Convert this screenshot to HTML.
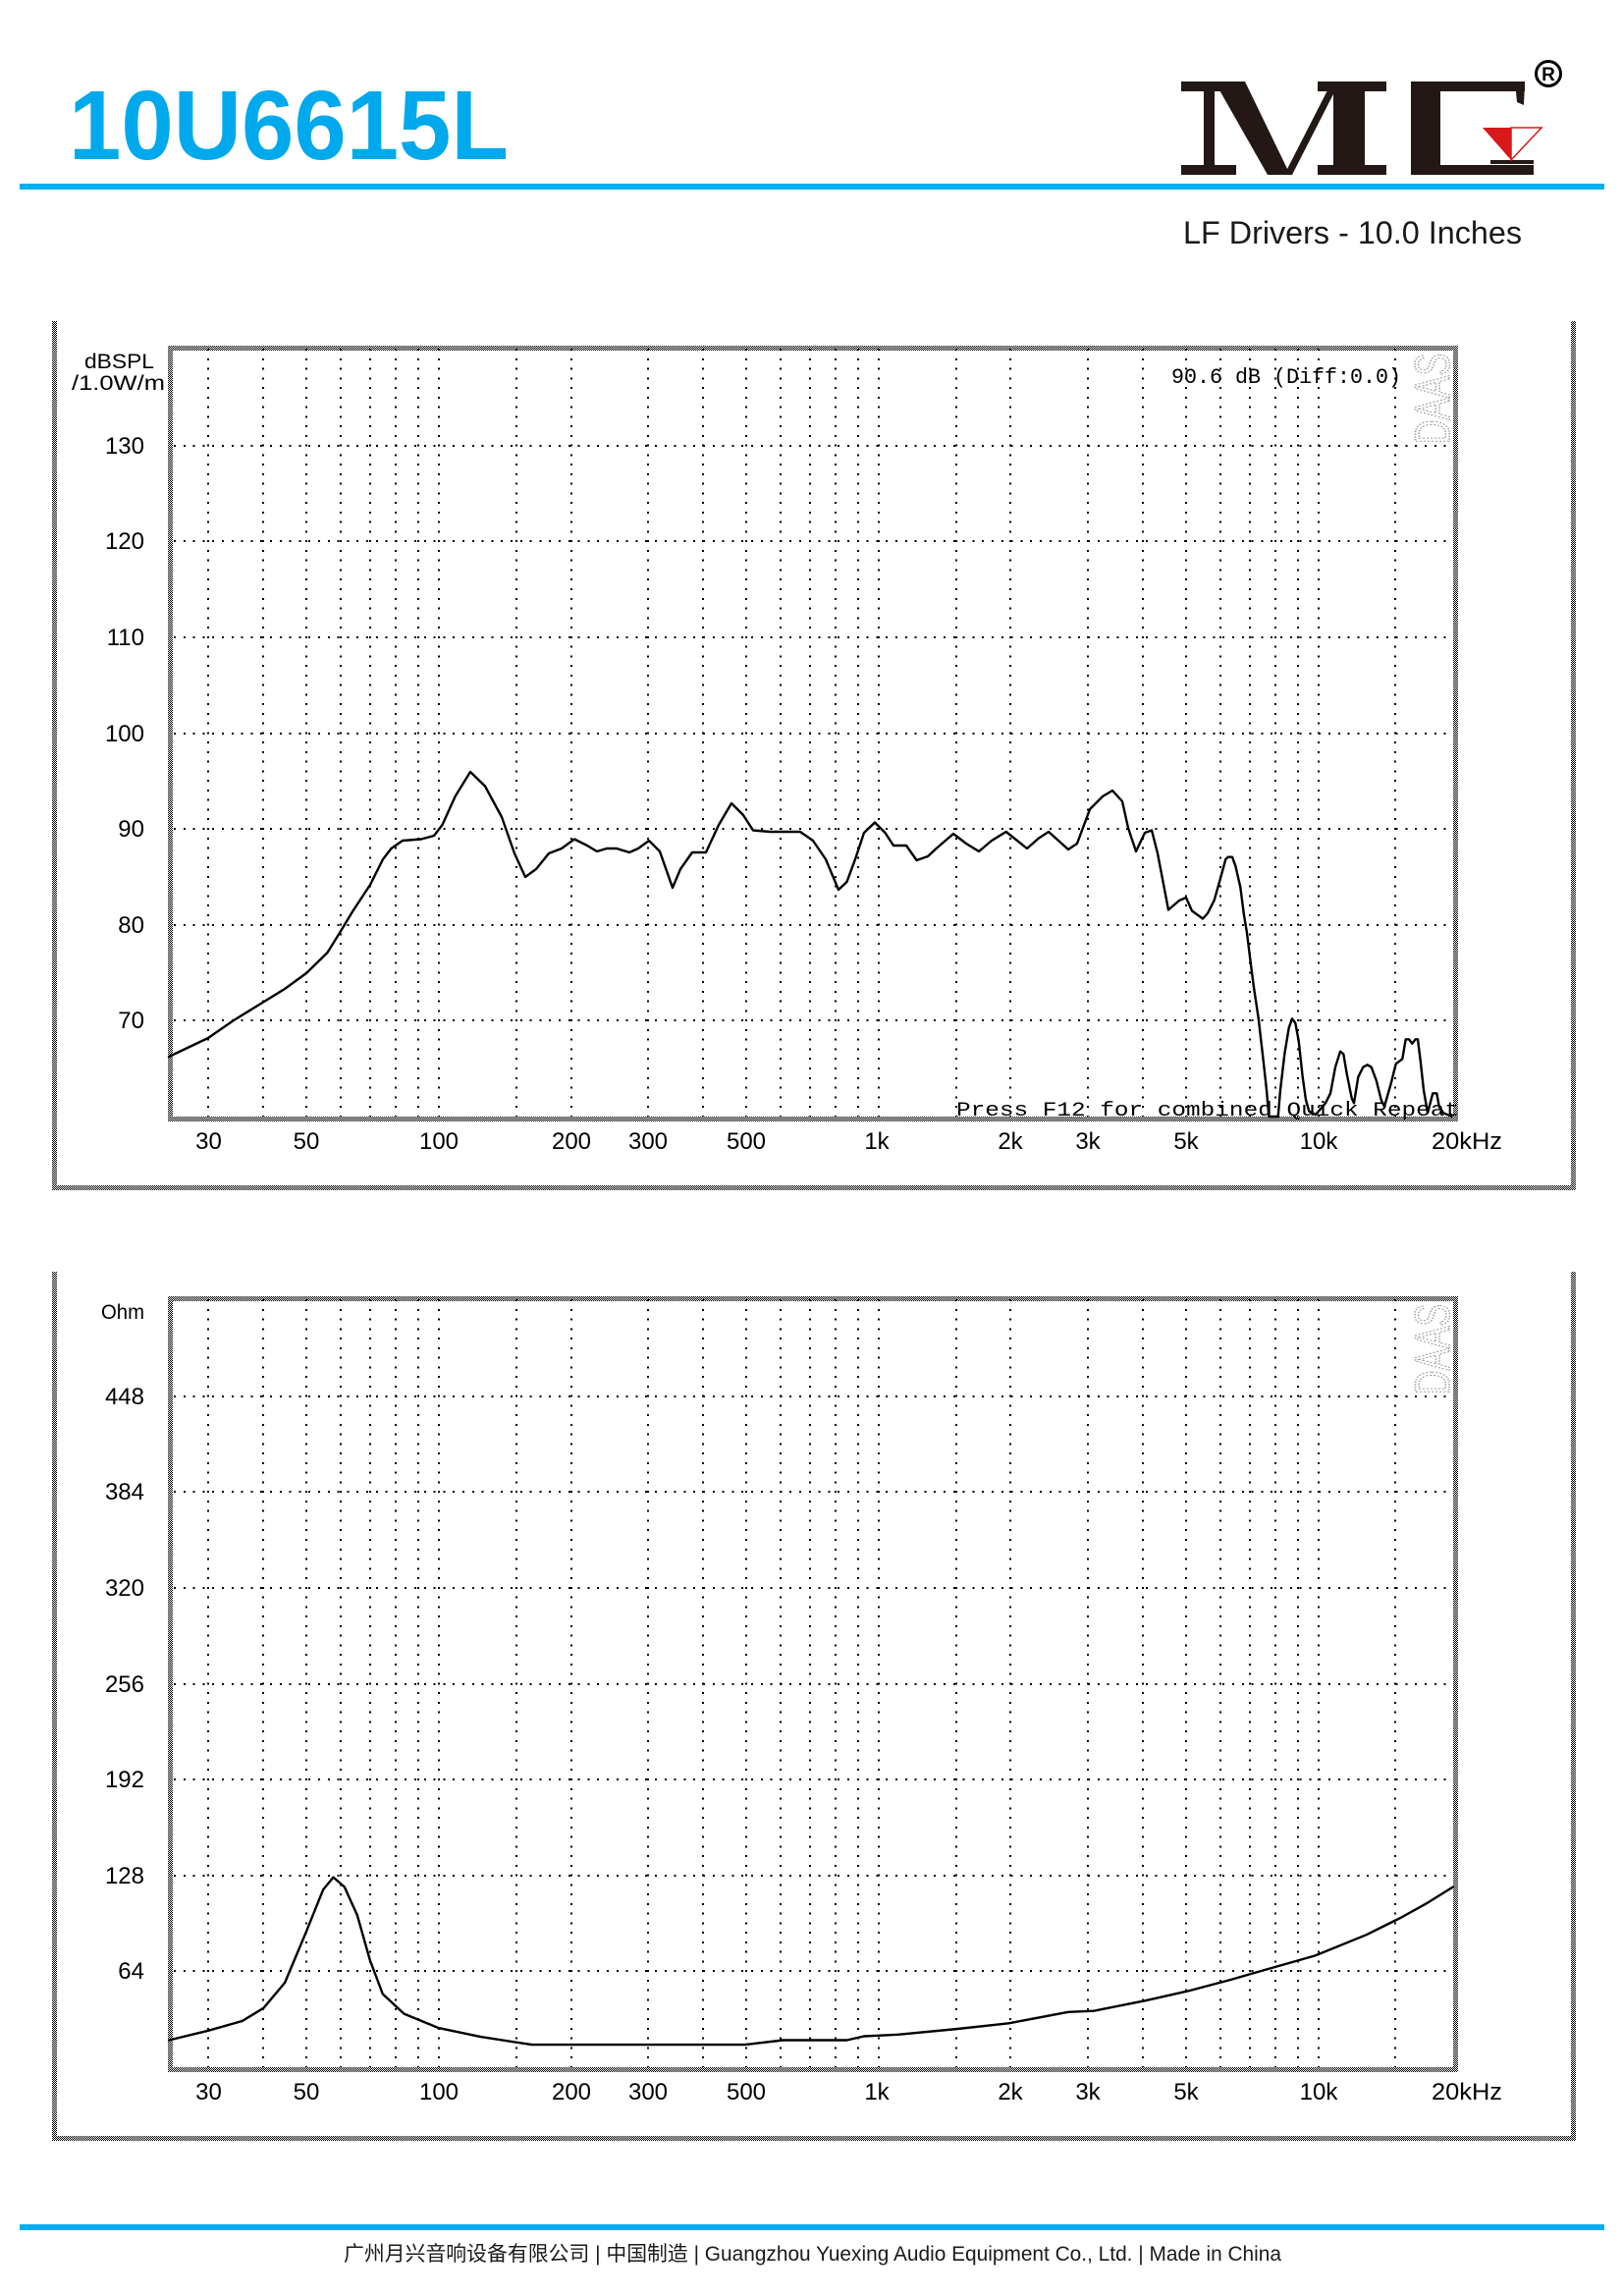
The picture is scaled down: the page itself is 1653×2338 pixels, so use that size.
<!DOCTYPE html>
<html>
<head>
<meta charset="utf-8">
<style>
html,body{margin:0;padding:0;background:#fff;}
body{width:1653px;height:2338px;overflow:hidden;position:relative;}
svg{position:absolute;left:0;top:0;}
</style>
</head>
<body>
<svg width="1653" height="2338" viewBox="0 0 1653 2338" xmlns="http://www.w3.org/2000/svg">
<defs>
<pattern id="ck" width="2" height="2" patternUnits="userSpaceOnUse">
<rect x="0" y="0" width="1" height="1" fill="#000"/>
<rect x="1" y="1" width="1" height="1" fill="#000"/>
</pattern>
<g id="vgrid" stroke="#000" stroke-width="2" stroke-dasharray="2 7.76" shape-rendering="crispEdges">
<line x1="212" y1="355" x2="212" y2="1137"/>
<line x1="268" y1="355" x2="268" y2="1137"/>
<line x1="312" y1="355" x2="312" y2="1137"/>
<line x1="347" y1="355" x2="347" y2="1137"/>
<line x1="377" y1="355" x2="377" y2="1137"/>
<line x1="403" y1="355" x2="403" y2="1137"/>
<line x1="426" y1="355" x2="426" y2="1137"/>
<line x1="447" y1="355" x2="447" y2="1137"/>
<line x1="526" y1="355" x2="526" y2="1137"/>
<line x1="582" y1="355" x2="582" y2="1137"/>
<line x1="660" y1="355" x2="660" y2="1137"/>
<line x1="716" y1="355" x2="716" y2="1137"/>
<line x1="760" y1="355" x2="760" y2="1137"/>
<line x1="795" y1="355" x2="795" y2="1137"/>
<line x1="825" y1="355" x2="825" y2="1137"/>
<line x1="851" y1="355" x2="851" y2="1137"/>
<line x1="874" y1="355" x2="874" y2="1137"/>
<line x1="895" y1="355" x2="895" y2="1137"/>
<line x1="974" y1="355" x2="974" y2="1137"/>
<line x1="1029" y1="355" x2="1029" y2="1137"/>
<line x1="1108" y1="355" x2="1108" y2="1137"/>
<line x1="1164" y1="355" x2="1164" y2="1137"/>
<line x1="1208" y1="355" x2="1208" y2="1137"/>
<line x1="1243" y1="355" x2="1243" y2="1137"/>
<line x1="1273" y1="355" x2="1273" y2="1137"/>
<line x1="1299" y1="355" x2="1299" y2="1137"/>
<line x1="1322" y1="355" x2="1322" y2="1137"/>
<line x1="1343" y1="355" x2="1343" y2="1137"/>
<line x1="1421" y1="355" x2="1421" y2="1137"/>
</g>
<g id="hgrid" stroke="#000" stroke-width="2" stroke-dasharray="2 7.8" shape-rendering="crispEdges">
<line x1="177" y1="454" x2="1480" y2="454"/>
<line x1="177" y1="551" x2="1480" y2="551"/>
<line x1="177" y1="649" x2="1480" y2="649"/>
<line x1="177" y1="747" x2="1480" y2="747"/>
<line x1="177" y1="844" x2="1480" y2="844"/>
<line x1="177" y1="942" x2="1480" y2="942"/>
<line x1="177" y1="1039" x2="1480" y2="1039"/>
</g>
<g id="frame">
<rect x="171" y="352" width="1314" height="5" fill="url(#ck)"/>
<rect x="171" y="1137" width="1314" height="5" fill="url(#ck)"/>
<rect x="171" y="352" width="5" height="790" fill="url(#ck)"/>
<rect x="1480" y="352" width="5" height="790" fill="url(#ck)"/>
<rect x="53" y="327" width="5" height="885" fill="url(#ck)"/>
<rect x="1600" y="327" width="5" height="885" fill="url(#ck)"/>
<rect x="53" y="1207" width="1552" height="5" fill="url(#ck)"/>
</g>
<g id="xlabels" font-family="Liberation Sans, sans-serif" font-size="24" fill="#000" text-anchor="middle">
<text x="212.5" y="1170">30</text>
<text x="312" y="1170">50</text>
<text x="447" y="1170">100</text>
<text x="582" y="1170">200</text>
<text x="660" y="1170">300</text>
<text x="760" y="1170">500</text>
<text x="893" y="1170">1k</text>
<text x="1029" y="1170">2k</text>
<text x="1108" y="1170">3k</text>
<text x="1208" y="1170">5k</text>
<text x="1343" y="1170">10k</text>
<text x="1494" y="1170" textLength="72" lengthAdjust="spacingAndGlyphs">20kHz</text>
</g>
<g id="daas">
<text transform="translate(1476,452) rotate(-90)" font-family="Liberation Sans, sans-serif" font-size="50" fill="none" stroke="#9a9a9a" stroke-width="1.5" stroke-dasharray="2 2" textLength="92" lengthAdjust="spacingAndGlyphs">DAAS</text>
</g>
</defs>

<!-- Header -->
<text x="70" y="162" font-family="Liberation Sans, sans-serif" font-weight="bold" font-size="100" fill="#00A9EC" textLength="448" lengthAdjust="spacingAndGlyphs">10U6615L</text>
<rect x="20" y="187" width="1614" height="6" fill="#00AEEF"/>

<!-- Logo M -->
<g fill="#231815">
<rect x="1203" y="83" width="65" height="10"/>
<rect x="1226" y="83" width="11" height="95"/>
<rect x="1203" y="168" width="56" height="10"/>
<polygon points="1237,83 1268,83 1314,178 1291,178"/>
<polygon points="1308,178 1316,178 1361,90 1353,90"/>
<rect x="1342" y="83" width="70" height="10"/>
<rect x="1358" y="83" width="32" height="95"/>
<rect x="1342" y="168" width="70" height="10"/>
<!-- G shape -->
<rect x="1437" y="83" width="30" height="95"/>
<rect x="1437" y="83" width="116" height="10"/>
<polygon points="1543,83 1553,83 1552,107 1545,104"/>
<rect x="1437" y="168" width="125" height="10"/>
<rect x="1518" y="163" width="44" height="4"/>
</g>
<polygon points="1510,130 1539,130 1539,163" fill="#D7191C"/>
<polygon points="1539,130 1570,130 1539,163" fill="none" stroke="#D7191C" stroke-width="1.5"/>
<circle cx="1577" cy="75" r="12.5" fill="none" stroke="#000" stroke-width="3"/>
<text x="1577" y="82" font-family="Liberation Sans, sans-serif" font-weight="bold" font-size="19" text-anchor="middle" fill="#000">R</text>

<text x="1205" y="248" font-family="Liberation Sans, sans-serif" font-size="32" fill="#1a1a1a" textLength="345" lengthAdjust="spacingAndGlyphs">LF Drivers - 10.0 Inches</text>

<!-- Chart 1 -->
<g>
<use href="#vgrid"/>
<use href="#hgrid"/>
<use href="#frame"/>
<use href="#xlabels"/>
<use href="#daas"/>
<g font-family="Liberation Sans, sans-serif" font-size="24" fill="#000" text-anchor="end">
<text x="147" y="462">130</text>
<text x="147" y="559">120</text>
<text x="147" y="657">110</text>
<text x="147" y="755">100</text>
<text x="147" y="852">90</text>
<text x="147" y="950">80</text>
<text x="147" y="1047">70</text>
</g>
<text x="86" y="375" font-family="Liberation Sans, sans-serif" font-size="21" fill="#000" textLength="71" lengthAdjust="spacingAndGlyphs">dBSPL</text>
<text x="73" y="397" font-family="Liberation Sans, sans-serif" font-size="21" fill="#000" textLength="95" lengthAdjust="spacingAndGlyphs">/1.0W/m</text>
<text x="1193" y="390" font-family="Liberation Mono, monospace" font-size="22" fill="#000" textLength="234" lengthAdjust="spacingAndGlyphs">90.6 dB (Diff:0.0)</text>
<text x="974" y="1136" font-family="Liberation Mono, monospace" font-size="20" fill="#000" textLength="512" lengthAdjust="spacingAndGlyphs">Press F12 for combined Quick Repeat</text>
<polyline fill="none" stroke="#000" stroke-width="2.4" stroke-linejoin="round" stroke-linecap="round" points="172,1076 212,1057 238,1039 264,1023 290,1007 312,991 333.5,970 346.5,949 359.5,927.5 377,901 390,875 398.5,864 410,856 429,854.5 442,851 450.5,840 463.6,811 479,786 494,800.5 511,832 524,869 535,893 546,885 559,869 572,864 585,854.5 598,861 608,867 618,864 628,864 641,868 650,864 661,856 672,867 685,904 693,885 705,868 719,868 732,840 745,818 757,830 767,845.5 784.5,847 815,847 828,856 841,875 854,906 862.5,898 871,875 880,848 891,837.5 901.5,848 910,861 923,861 933.6,876 945,872 953.6,864 971,849 984,859 997,867 1010,856 1024.7,847 1036,856 1046,864 1058,853.5 1068,847 1078,856 1088,865 1097,859 1110,824 1123,811 1133,805 1143,816 1149,843 1157,867 1166,848 1173,845.5 1179,869 1190,926.5 1201,917 1208,914 1214,927.5 1225,935.5 1230,930 1236.7,916.7 1243.3,893.3 1248.3,875 1250.7,872.7 1255,872.7 1258.3,881.7 1263.3,903.3 1266.7,930 1270,950 1273.3,976.7 1276.7,1003.3 1281.7,1036.7 1286.7,1080 1290,1110 1292.3,1137 1301.7,1137 1304,1110 1308.3,1073.3 1312.7,1046.7 1316,1037.3 1319.3,1041.7 1322.7,1060 1326.7,1096.7 1330,1120 1333.3,1131.7 1340,1135 1350,1123.3 1355,1113.3 1360,1086.7 1365,1070.7 1368.3,1073.3 1371.7,1093.3 1376.7,1118.3 1379,1123.3 1383.3,1096.7 1388.3,1086.7 1392.7,1084.3 1396.7,1086.7 1401.7,1100 1406.7,1120 1410,1126.7 1416.7,1103.3 1421.7,1083.3 1428.3,1078.3 1431.7,1058.3 1435,1058.3 1438.3,1062.7 1441.7,1058.3 1444,1058.3 1446.7,1080 1450,1110 1454,1133.3 1459.3,1113.3 1463.3,1113.3 1465.7,1126.7 1470,1133.3 1478.3,1136.7"/>
</g>

<!-- Chart 2 -->
<g transform="translate(0,968)">
<use href="#vgrid"/>
<use href="#hgrid"/>
<use href="#frame"/>
<use href="#xlabels"/>
<use href="#daas"/>
<g font-family="Liberation Sans, sans-serif" font-size="24" fill="#000" text-anchor="end">
<text x="147" y="462">448</text>
<text x="147" y="559">384</text>
<text x="147" y="657">320</text>
<text x="147" y="755">256</text>
<text x="147" y="852">192</text>
<text x="147" y="950">128</text>
<text x="147" y="1047">64</text>
</g>
<text x="103" y="375" font-family="Liberation Sans, sans-serif" font-size="21" fill="#000" textLength="44" lengthAdjust="spacingAndGlyphs">Ohm</text>
</g>
<polyline fill="none" stroke="#000" stroke-width="2.4" stroke-linejoin="round" stroke-linecap="round" points="172.1,2077.5 212,2067.8 246.7,2058 268.4,2044.8 290.1,2019 311.8,1967.3 329.1,1924.3 339.5,1911.6 350.8,1921.4 363.8,1950.1 376.8,1996 389.8,2030.5 411.5,2050.6 446.2,2064.9 489.6,2074.1 541.6,2082.1 758.4,2082.1 797.5,2077.5 862.5,2077.5 879.9,2073.5 914.6,2071.8 975.3,2066 1027.3,2060.3 1088,2048.8 1114,2047.7 1166.1,2037.3 1209.4,2027.6 1252.8,2016.1 1278.8,2008.6 1339.5,1991.4 1391.6,1970.2 1426.3,1953 1452.3,1938.6 1480,1921.4"/>

<!-- Footer -->
<rect x="20" y="2265" width="1614" height="6" fill="#00AEEF"/>
<text x="350" y="2302" font-family="Liberation Sans, Noto Sans CJK SC, sans-serif" font-size="21" fill="#1a1a1a" textLength="955" lengthAdjust="spacingAndGlyphs">广州月兴音响设备有限公司 | 中国制造 | Guangzhou Yuexing Audio Equipment Co., Ltd. | Made in China</text>
</svg>
</body>
</html>
